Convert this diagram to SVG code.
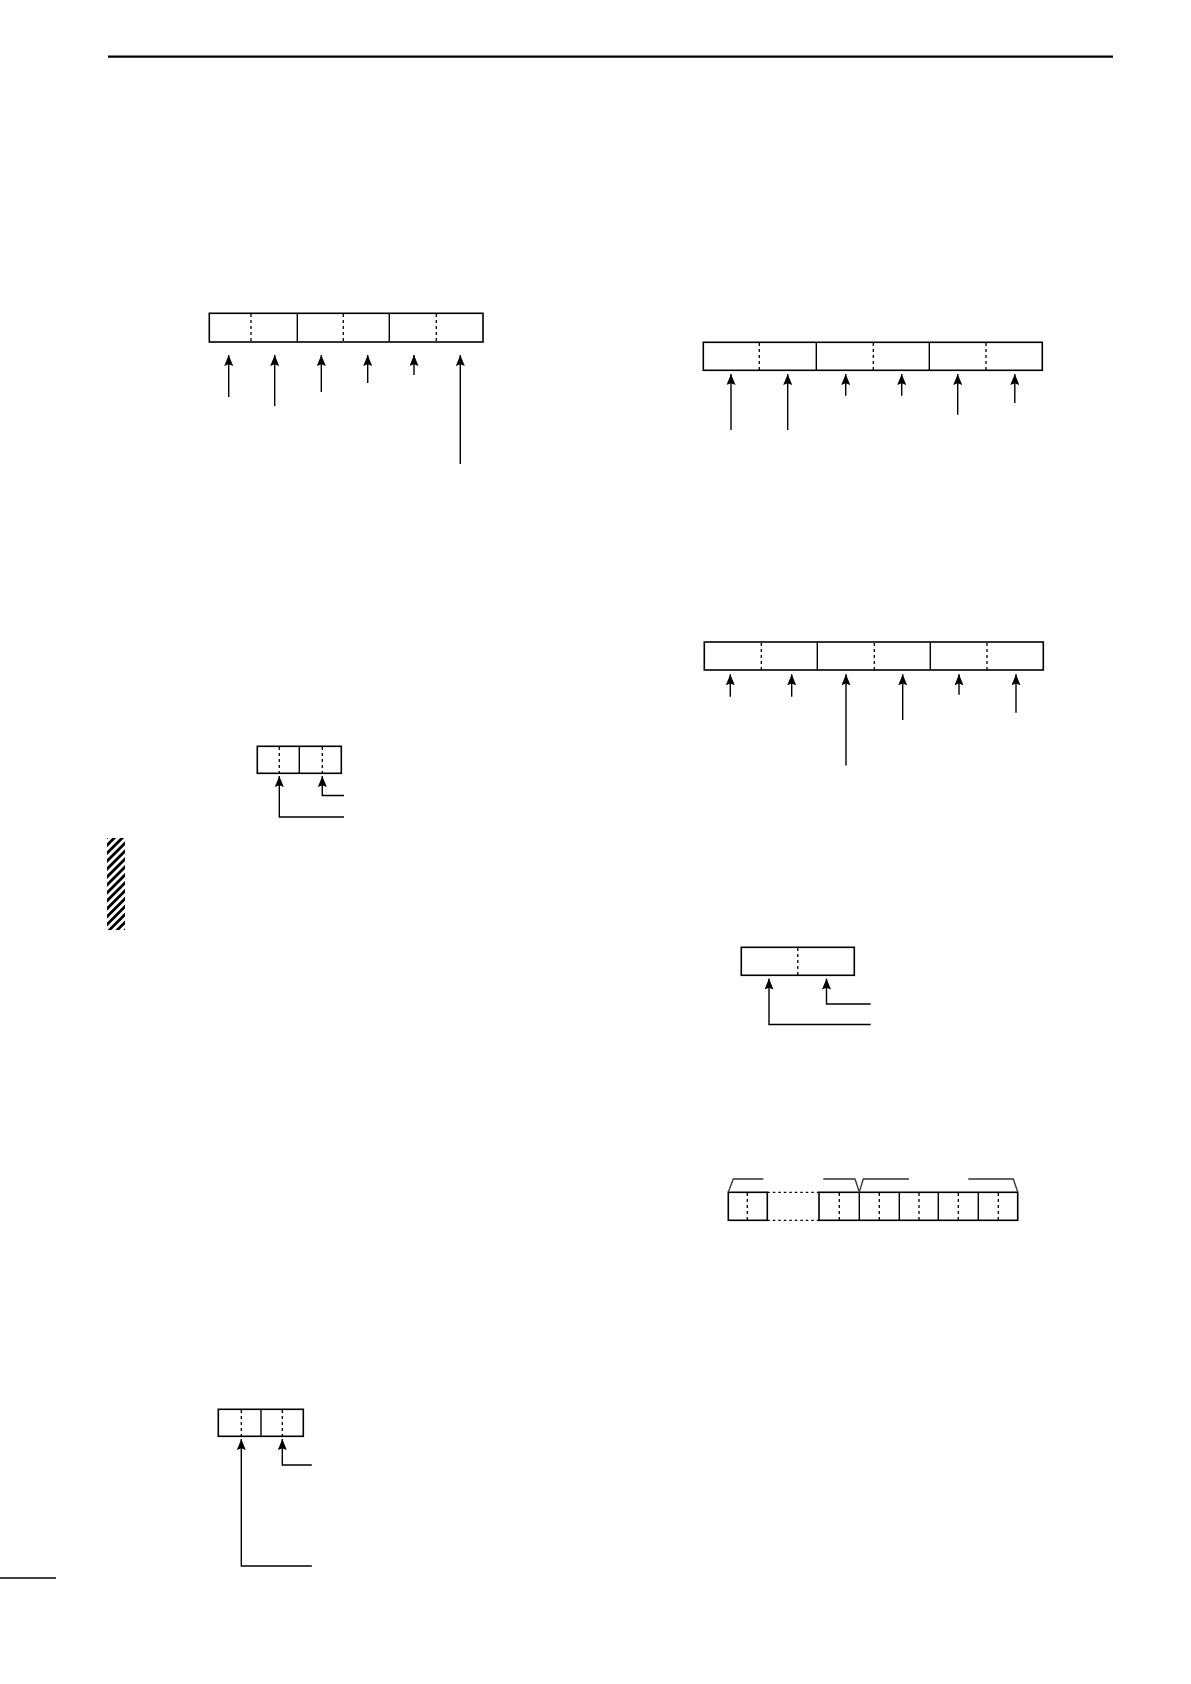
<svg xmlns="http://www.w3.org/2000/svg" width="1191" height="1684" viewBox="0 0 1191 1684">
<defs>
<marker id="ah" viewBox="0 0 11 9" refX="11" refY="4.5" markerWidth="11" markerHeight="9" markerUnits="userSpaceOnUse" orient="auto">
<path d="M0,0 L11,4.5 L0,9 L1.8,4.5 Z" fill="#000"/>
</marker>
<pattern id="hatch" width="5.6" height="5.6" patternUnits="userSpaceOnUse" patternTransform="rotate(45)">
<rect x="0" y="0" width="2.8" height="5.6" fill="#000"/>
</pattern>
</defs>
<style>
.box{fill:#fff;stroke:#000;stroke-width:1.6}
.div{stroke:#000;stroke-width:1.4}
.dash{stroke:#000;stroke-width:1.3;stroke-dasharray:3 3}
.dot{stroke:#000;stroke-width:1.2;stroke-dasharray:2.5 3}
.arr{fill:none;stroke:#000;stroke-width:1.4;marker-end:url(#ah)}
.brk{fill:none;stroke:#333;stroke-width:1.3}
</style>
<rect width="1191" height="1684" fill="#fff"/>
<line x1="108" y1="56.7" x2="1113" y2="56.7" stroke="#000" stroke-width="2.2"/>
<line x1="0" y1="1578" x2="56" y2="1578" stroke="#000" stroke-width="1.5"/>
<rect id="hatchblock" x="107" y="838" width="18" height="92" fill="url(#hatch)"/>

<g id="frame1">
<rect class="box" x="209.3" y="313.3" width="273.7" height="28.7"/>
<line class="div" x1="297.3" y1="313.3" x2="297.3" y2="342"/>
<line class="div" x1="389.3" y1="313.3" x2="389.3" y2="342"/>
<line class="dash" x1="251" y1="314" x2="251" y2="342"/>
<line class="dash" x1="343.3" y1="314" x2="343.3" y2="342"/>
<line class="dash" x1="436.3" y1="314" x2="436.3" y2="342"/>
</g>
<g id="frame2">
<rect class="box" x="703.3" y="342.3" width="339" height="28"/>
<line class="div" x1="816.3" y1="342.3" x2="816.3" y2="370.3"/>
<line class="div" x1="929.3" y1="342.3" x2="929.3" y2="370.3"/>
<line class="dash" x1="759.3" y1="343" x2="759.3" y2="370"/>
<line class="dash" x1="873.3" y1="343" x2="873.3" y2="370"/>
<line class="dash" x1="986" y1="343" x2="986" y2="370"/>
</g>
<g id="frame3">
<rect class="box" x="704.3" y="642" width="339" height="28"/>
<line class="div" x1="817.3" y1="642" x2="817.3" y2="670"/>
<line class="div" x1="930.3" y1="642" x2="930.3" y2="670"/>
<line class="dash" x1="761.3" y1="643" x2="761.3" y2="670"/>
<line class="dash" x1="874.3" y1="643" x2="874.3" y2="670"/>
<line class="dash" x1="987" y1="643" x2="987" y2="670"/>
</g>
<g id="frame4">
<rect class="box" x="257.3" y="746.3" width="84" height="27"/>
<line class="div" x1="299.3" y1="746.3" x2="299.3" y2="773.3"/>
<line class="dash" x1="279.3" y1="747" x2="279.3" y2="773"/>
<line class="dash" x1="322.3" y1="747" x2="322.3" y2="773"/>
</g>
<g id="frame5">
<rect class="box" x="741.3" y="947.3" width="113" height="28"/>
<line class="dash" x1="797.8" y1="948" x2="797.8" y2="975"/>
</g>
<g id="frame6">
<rect class="box" x="728.3" y="1192.3" width="39" height="28"/>
<line class="dash" x1="747.3" y1="1193" x2="747.3" y2="1220"/>
<line class="dot" x1="767.3" y1="1192.3" x2="819" y2="1192.3"/>
<line class="dot" x1="767.3" y1="1220.3" x2="819" y2="1220.3"/>
<rect class="box" x="819" y="1192.3" width="198.7" height="28"/>
<line class="div" x1="859.3" y1="1192.3" x2="859.3" y2="1220.3"/>
<line class="div" x1="899.3" y1="1192.3" x2="899.3" y2="1220.3"/>
<line class="div" x1="938.3" y1="1192.3" x2="938.3" y2="1220.3"/>
<line class="div" x1="978.3" y1="1192.3" x2="978.3" y2="1220.3"/>
<line class="dash" x1="839.3" y1="1193" x2="839.3" y2="1220"/>
<line class="dash" x1="879.3" y1="1193" x2="879.3" y2="1220"/>
<line class="dash" x1="919" y1="1193" x2="919" y2="1220"/>
<line class="dash" x1="958.3" y1="1193" x2="958.3" y2="1220"/>
<line class="dash" x1="998.3" y1="1193" x2="998.3" y2="1220"/>
<path class="brk" d="M728.3,1192 L733.3,1179 L763.3,1179"/>
<path class="brk" d="M823.3,1179 L855,1179 L859.3,1192 L863.3,1179 L909,1179"/>
<path class="brk" d="M968.3,1179 L1013.3,1179 L1017.7,1192"/>
</g>
<g id="frame7">
<rect class="box" x="218.3" y="1409.3" width="85" height="27"/>
<line class="div" x1="261" y1="1409.3" x2="261" y2="1436.3"/>
<line class="dash" x1="241.3" y1="1410" x2="241.3" y2="1436"/>
<line class="dash" x1="282.3" y1="1410" x2="282.3" y2="1436"/>
</g>

<g id="connectors">
<path class="arr" d="M228.7,397 V355"/>
<path class="arr" d="M274.7,406 V355"/>
<path class="arr" d="M321.3,392 V355"/>
<path class="arr" d="M367.7,383 V355"/>
<path class="arr" d="M414,375 V355"/>
<path class="arr" d="M460.3,464 V355"/>

<path class="arr" d="M731,430 V374"/>
<path class="arr" d="M787.7,430 V374"/>
<path class="arr" d="M845.7,395.7 V374"/>
<path class="arr" d="M901.7,395.7 V374"/>
<path class="arr" d="M957.7,414.7 V374"/>
<path class="arr" d="M1014.8,403 V374"/>

<path class="arr" d="M730.3,696.7 V674.3"/>
<path class="arr" d="M791.7,696.7 V674.3"/>
<path class="arr" d="M846,765.4 V674.3"/>
<path class="arr" d="M902.7,720 V674.3"/>
<path class="arr" d="M959,694.7 V674.3"/>
<path class="arr" d="M1016,712.7 V674.3"/>

<path class="arr" d="M344,817 H279.3 V776"/>
<path class="arr" d="M344,795.5 H322.3 V776"/>

<path class="arr" d="M870.7,1024.5 H769 V978.5"/>
<path class="arr" d="M870.7,1004 H826.5 V978.5"/>

<path class="arr" d="M311.8,1566 H241.3 V1439"/>
<path class="arr" d="M311.8,1465 H282.3 V1439"/>
</g>
</svg>
